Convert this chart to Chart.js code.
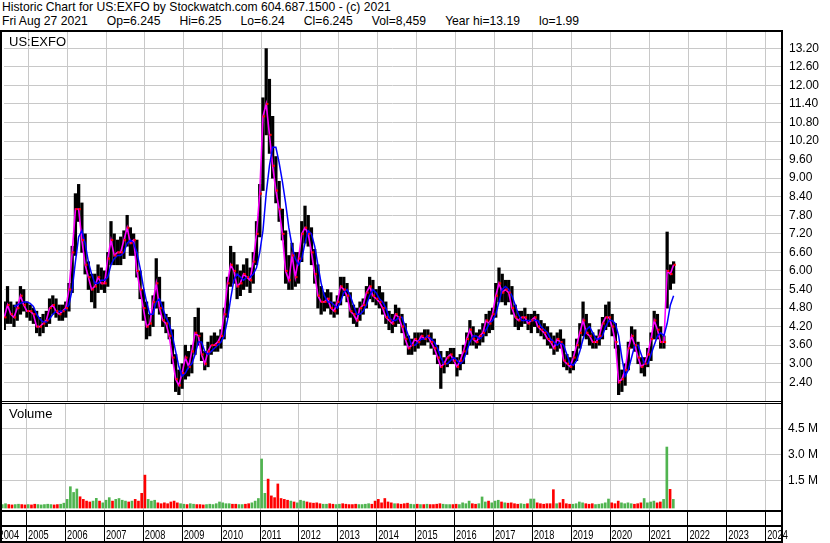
<!DOCTYPE html>
<html>
<head>
<meta charset="utf-8">
<script src="https://cdn.jsdelivr.net/npm/chart.js@4.4.1/dist/chart.umd.min.js"></script>
<style>
  body { margin: 0; background: #fff; }
  #wrap { position: relative; width: 830px; height: 543px; overflow: hidden; }
  .head { position: absolute; top: 0; left: 2px; font: 12.15px 'Liberation Sans', Arial, sans-serif; line-height: 14px; white-space: pre; color: #000; }
  .head span { margin-right: 19px; }
  canvas { position: absolute; left: 0; top: 0; }
</style>
</head>
<body>
<div id="wrap">
<div class="head">Historic Chart for US:EXFO by Stockwatch.com 604.687.1500 - (c) 2021</div>
<div class="head" style="top:14px"><span>Fri Aug 27 2021</span><span>Op=6.245</span><span>Hi=6.25</span><span>Lo=6.24</span><span>Cl=6.245</span><span>Vol=8,459</span><span>Year hi=13.19</span><span>lo=1.99</span></div>
<canvas id="price" width="830" height="543"></canvas>
<canvas id="volume" width="830" height="543"></canvas>
</div>
<script>
// monthly bars
const months = [
  '2004-05','2004-06','2004-07','2004-08','2004-09','2004-10','2004-11','2004-12',
  '2005-01','2005-02','2005-03','2005-04','2005-05','2005-06','2005-07','2005-08','2005-09','2005-10','2005-11','2005-12',
  '2006-01','2006-02','2006-03','2006-04','2006-05','2006-06','2006-07','2006-08','2006-09','2006-10','2006-11','2006-12',
  '2007-01','2007-02','2007-03','2007-04','2007-05','2007-06','2007-07','2007-08','2007-09','2007-10','2007-11','2007-12',
  '2008-01','2008-02','2008-03','2008-04','2008-05','2008-06','2008-07','2008-08','2008-09','2008-10','2008-11','2008-12',
  '2009-01','2009-02','2009-03','2009-04','2009-05','2009-06','2009-07','2009-08','2009-09','2009-10','2009-11','2009-12',
  '2010-01','2010-02','2010-03','2010-04','2010-05','2010-06','2010-07','2010-08','2010-09','2010-10','2010-11','2010-12',
  '2011-01','2011-02','2011-03','2011-04','2011-05','2011-06','2011-07','2011-08','2011-09','2011-10','2011-11','2011-12',
  '2012-01','2012-02','2012-03','2012-04','2012-05','2012-06','2012-07','2012-08','2012-09','2012-10','2012-11','2012-12',
  '2013-01','2013-02','2013-03','2013-04','2013-05','2013-06','2013-07','2013-08','2013-09','2013-10','2013-11','2013-12',
  '2014-01','2014-02','2014-03','2014-04','2014-05','2014-06','2014-07','2014-08','2014-09','2014-10','2014-11','2014-12',
  '2015-01','2015-02','2015-03','2015-04','2015-05','2015-06','2015-07','2015-08','2015-09','2015-10','2015-11','2015-12',
  '2016-01','2016-02','2016-03','2016-04','2016-05','2016-06','2016-07','2016-08','2016-09','2016-10','2016-11','2016-12',
  '2017-01','2017-02','2017-03','2017-04','2017-05','2017-06','2017-07','2017-08','2017-09','2017-10','2017-11','2017-12',
  '2018-01','2018-02','2018-03','2018-04','2018-05','2018-06','2018-07','2018-08','2018-09','2018-10','2018-11','2018-12',
  '2019-01','2019-02','2019-03','2019-04','2019-05','2019-06','2019-07','2019-08','2019-09','2019-10','2019-11','2019-12',
  '2020-01','2020-02','2020-03','2020-04','2020-05','2020-06','2020-07','2020-08','2020-09','2020-10','2020-11','2020-12',
  '2021-01','2021-02','2021-03','2021-04','2021-05','2021-06','2021-07','2021-08'
];

const highs = [
  5.0,5.5,5.0,4.9,5.0,5.5,5.4,5.0,
  4.9,4.8,4.7,4.5,4.6,4.7,5.1,5.2,5.1,4.9,4.9,5.0,
  5.6,6.8,8.5,8.8,8.2,7.2,6.3,5.9,5.9,6.2,6.1,6.0,
  6.6,7.6,7.2,7.0,7.1,7.3,7.8,7.4,7.2,7.0,6.0,5.4,
  5.0,4.6,5.2,6.4,5.8,5.0,4.6,4.5,4.1,3.3,2.8,3.0,
  3.6,3.4,3.6,4.5,4.8,4.0,3.4,3.7,3.9,4.0,3.9,4.1,
  4.8,5.8,6.8,6.6,6.2,6.0,6.2,6.4,6.1,6.6,7.6,8.8,
  11.6,13.19,12.2,11.0,9.7,8.9,8.0,7.3,6.5,6.9,6.6,6.6,
  7.6,8.1,7.8,7.4,6.7,6.2,5.5,5.3,5.4,5.3,5.0,5.2,
  5.8,5.8,5.6,5.3,4.9,4.8,5.0,5.1,5.5,5.8,5.7,5.4,
  5.5,5.3,5.0,4.7,4.6,4.9,4.8,4.6,4.3,3.9,3.8,4.0,
  4.0,4.0,4.1,4.1,4.0,3.8,3.6,3.4,3.2,3.4,3.5,3.5,
  3.2,3.3,3.6,4.0,4.4,4.2,4.0,4.1,4.3,4.6,4.7,4.8,
  5.6,6.1,5.9,5.7,5.7,5.5,4.9,4.7,4.7,4.8,4.6,4.6,
  4.7,4.6,4.4,4.3,4.2,4.0,3.9,4.0,4.1,3.8,3.3,3.2,
  3.4,3.8,4.3,5.0,4.6,4.3,4.0,3.9,4.1,4.5,4.9,5.0,
  4.6,4.3,3.6,2.8,3.0,3.7,4.2,4.1,3.7,3.2,3.2,3.5,
  4.0,4.7,4.6,4.2,3.9,7.26,6.2,6.3
];

const lows = [
  4.1,4.3,4.3,4.2,4.4,4.6,4.7,4.5,
  4.4,4.3,4.0,3.9,4.0,4.2,4.3,4.6,4.5,4.4,4.4,4.5,
  4.7,5.3,6.5,7.6,6.6,5.9,5.4,5.0,4.8,5.3,5.4,5.3,
  5.5,6.2,6.2,6.2,6.2,6.4,6.8,6.5,6.5,5.8,5.1,4.4,
  3.8,3.9,4.2,4.8,4.6,4.2,4.0,3.8,3.0,2.1,2.0,2.2,
  2.5,2.6,2.7,3.3,3.6,3.1,2.8,2.9,3.3,3.4,3.4,3.5,
  3.8,4.5,5.5,5.6,5.1,5.2,5.4,5.5,5.3,5.6,6.2,7.1,
  8.6,10.4,9.8,9.0,8.2,7.6,7.0,5.6,5.4,5.4,5.5,5.6,
  6.3,6.9,6.8,6.2,5.6,4.8,4.6,4.7,4.8,4.6,4.5,4.6,
  4.9,5.2,5.0,4.5,4.3,4.2,4.4,4.6,4.8,5.1,5.0,4.9,
  4.8,4.6,4.3,4.1,4.0,4.2,4.3,4.0,3.6,3.3,3.3,3.4,
  3.5,3.6,3.6,3.7,3.5,3.3,3.0,2.2,2.7,2.9,3.0,3.0,
  2.6,2.8,3.0,3.3,3.6,3.6,3.5,3.6,3.7,3.9,4.0,4.1,
  4.5,5.0,5.0,4.9,5.0,4.6,4.2,4.1,4.2,4.3,4.1,4.0,
  4.2,4.0,3.9,3.8,3.6,3.5,3.3,3.4,3.5,2.9,2.8,2.7,
  2.8,3.1,3.5,3.9,3.8,3.6,3.5,3.5,3.6,3.8,4.1,4.2,
  3.9,3.5,2.0,2.1,2.3,2.8,3.5,3.4,3.0,2.7,2.6,2.9,
  3.1,3.8,3.8,3.5,3.5,4.8,5.4,5.6
];

const closes = [
  4.5,4.9,4.6,4.5,4.8,5.2,4.9,4.7,
  4.7,4.6,4.2,4.2,4.3,4.4,4.8,4.9,4.7,4.6,4.7,4.8,
  5.4,6.6,8.0,8.0,7.0,6.2,5.8,5.4,5.5,5.8,5.6,5.6,
  6.4,7.0,6.5,6.6,6.6,7.0,7.4,6.9,7.0,6.0,5.4,4.8,
  4.2,4.3,5.0,5.6,4.8,4.4,4.3,3.9,3.2,2.5,2.3,2.7,
  3.2,2.9,3.4,4.0,3.9,3.3,3.0,3.4,3.6,3.6,3.7,3.9,
  4.6,5.6,6.2,6.0,5.5,5.6,5.9,5.8,5.7,6.3,7.2,8.5,
  11.0,11.4,10.4,9.4,8.6,8.0,7.2,6.0,5.7,6.5,5.8,6.4,
  7.2,7.4,7.2,6.6,5.9,5.2,5.0,5.0,5.1,4.8,4.7,5.0,
  5.5,5.4,5.2,4.7,4.6,4.4,4.8,4.9,5.3,5.5,5.2,5.1,
  5.0,4.8,4.5,4.4,4.3,4.6,4.5,4.2,3.8,3.5,3.6,3.8,
  3.7,3.9,3.8,3.9,3.7,3.5,3.2,2.9,3.0,3.2,3.3,3.1,
  2.9,3.1,3.4,3.8,4.1,3.8,3.7,3.9,4.0,4.4,4.3,4.6,
  5.2,5.6,5.3,5.4,5.3,4.8,4.5,4.4,4.5,4.5,4.3,4.4,
  4.5,4.2,4.1,4.0,3.8,3.7,3.5,3.8,3.7,3.1,3.0,2.9,
  3.2,3.6,4.0,4.4,4.0,3.9,3.7,3.7,3.9,4.3,4.5,4.5,
  4.2,3.7,2.4,2.5,2.8,3.5,3.9,3.6,3.2,2.9,3.0,3.3,
  3.8,4.4,4.1,3.7,3.7,6.0,5.9,6.2
];

// slow moving average (blue line)
const avgLong = [
  null,null,null,4.85,4.9,4.95,5.0,5.0,
  4.95,4.85,4.6,4.45,4.35,4.35,4.45,4.6,4.7,4.7,4.7,4.75,
  4.9,5.4,6.3,7.1,7.3,6.9,6.3,5.9,5.6,5.6,5.7,5.7,
  5.8,6.2,6.4,6.5,6.5,6.6,6.9,7.0,6.9,6.6,6.1,5.5,
  5.0,4.6,4.6,5.0,5.1,4.8,4.5,4.3,3.9,3.4,2.9,2.6,
  2.7,2.9,3.0,3.3,3.7,3.7,3.4,3.3,3.4,3.5,3.6,3.7,
  3.9,4.4,5.1,5.7,5.9,5.8,5.7,5.8,5.8,5.9,6.1,6.6,
  7.3,8.5,9.4,10.0,10.0,9.5,8.9,8.2,7.4,6.8,6.4,6.2,
  6.4,6.9,7.3,7.2,6.8,6.2,5.6,5.2,5.0,5.0,4.9,4.8,
  5.0,5.3,5.4,5.2,4.9,4.6,4.6,4.7,4.9,5.2,5.4,5.3,
  5.1,5.0,4.8,4.5,4.4,4.4,4.5,4.5,4.2,3.9,3.6,3.6,
  3.7,3.8,3.8,3.9,3.8,3.7,3.5,3.2,3.0,3.0,3.1,3.2,
  3.1,3.0,3.1,3.4,3.7,3.9,3.9,3.8,3.9,4.1,4.3,4.4,
  4.6,5.0,5.4,5.5,5.4,5.2,4.9,4.6,4.4,4.4,4.4,4.4,
  4.4,4.4,4.2,4.1,4.0,3.8,3.7,3.6,3.7,3.6,3.3,3.0,
  2.95,3.1,3.4,3.8,4.1,4.2,4.0,3.8,3.8,3.9,4.2,4.4,
  4.4,4.3,3.9,3.2,2.6,2.8,3.2,3.6,3.6,3.3,3.0,3.0,
  3.3,3.6,3.9,4.0,3.9,4.3,4.9,5.2
];

// volume in millions of shares
const volumes = [
  0.10,0.15,0.10,0.08,0.10,0.12,0.10,0.08,
  0.10,0.08,0.12,0.10,0.08,0.10,0.12,0.10,0.08,0.10,0.12,0.18,
  0.40,1.13,0.80,1.00,0.55,0.40,0.30,0.25,0.30,0.46,0.30,0.20,
  0.35,0.50,0.30,0.40,0.45,0.35,0.30,0.25,0.30,0.40,0.30,0.75,
  1.80,0.40,0.30,0.35,0.20,0.15,0.20,0.15,0.25,0.30,0.20,0.15,
  0.12,0.10,0.15,0.12,0.10,0.10,0.08,0.10,0.12,0.10,0.15,0.25,
  0.20,0.15,0.15,0.12,0.12,0.10,0.10,0.12,0.15,0.20,0.30,0.45,
  2.73,0.75,1.57,0.60,0.50,1.29,0.45,0.40,0.35,0.30,0.25,0.20,
  0.35,0.30,0.25,0.20,0.18,0.20,0.15,0.12,0.12,0.15,0.12,0.10,
  0.12,0.15,0.12,0.10,0.10,0.12,0.10,0.10,0.12,0.15,0.12,0.30,
  0.40,0.20,0.45,0.25,0.20,0.15,0.15,0.12,0.15,0.18,0.12,0.10,
  0.12,0.10,0.10,0.12,0.10,0.10,0.12,0.15,0.12,0.10,0.10,0.10,
  0.12,0.10,0.20,0.15,0.30,0.15,0.12,0.15,0.54,0.25,0.30,0.20,
  0.30,0.35,0.25,0.20,0.18,0.20,0.15,0.12,0.15,0.12,0.15,0.42,
  0.42,0.20,0.15,0.12,0.15,0.15,0.96,0.15,0.20,0.40,0.15,0.12,
  0.12,0.15,0.25,0.20,0.15,0.12,0.15,0.10,0.12,0.15,0.20,0.42,
  0.20,0.15,0.30,0.20,0.15,0.20,0.15,0.12,0.15,0.20,0.45,0.20,
  0.25,0.30,0.20,0.25,0.40,3.42,0.98,0.40
];

const yearLabels = ['2004','2005','2006','2007','2008','2009','2010','2011','2012','2013','2014',
  '2015','2016','2017','2018','2019','2020','2021','2022','2023','2024'];
const priceTicks = [2.4, 3.0, 3.6, 4.2, 4.8, 5.4, 6.0, 6.6, 7.2, 7.8, 8.4, 9.0, 9.6, 10.2, 10.8, 11.4, 12.0, 12.6, 13.2];
const volumeTicks = [1.5, 3.0, 4.5];

const FONT = "'Liberation Sans', Arial, sans-serif";
const GRID = '#c8c8c8';
const X_MIN = 2004.3676, X_MAX = 2024.393;

const toYear = m => { const p = m.split('-').map(Number); return p[0] + (p[1] - 0.5) / 12; };
const xs = months.map(toYear);
const yearLines = yearLabels.slice(1).map(Number);

const yearGrid = axis => { axis.ticks = yearLines.map(v => ({ value: v })); };

// price panel
new Chart(document.getElementById('price'), {
  type: 'bar',
  data: {
    datasets: [
      {
        type: 'line',
        data: xs.map((x, i) => ({ x: x + 0.35 / 12, y: closes[i] })),
        showLine: false,
        pointStyle: 'rect',
        pointRadius: 1.5,
        pointBackgroundColor: '#ff0000',
        pointBorderWidth: 0,
        order: 0
      },
      {
        type: 'line',
        data: xs.map((x, i) => ({ x, y: avgLong[i] })),
        borderColor: '#0000ff',
        borderWidth: 1.5,
        pointRadius: 0,
        order: 1
      },
      {
        type: 'line',
        data: xs.map((x, i) => ({ x, y: closes[i] })),
        borderColor: '#ff00ff',
        borderWidth: 1.6,
        pointRadius: 0,
        order: 2
      },
      {
        type: 'bar',
        data: xs.map((x, i) => ({ x, y: [lows[i], highs[i]] })),
        backgroundColor: '#000',
        barThickness: 2.6,
        order: 3
      }
    ]
  },
  options: {
    responsive: false,
    animation: false,
    events: [],
    layout: { padding: { left: 2, top: 32, right: 0, bottom: 142 } },
    plugins: { legend: { display: false }, tooltip: { enabled: false } },
    scales: {
      x: {
        type: 'linear', min: X_MIN, max: X_MAX, offset: false,
        afterBuildTicks: yearGrid,
        afterFit: a => { a.height = 0; },
        ticks: { display: false },
        grid: { color: GRID, drawTicks: false, offset: false },
        border: { display: false }
      },
      y: {
        position: 'right', min: 1.795, max: 13.727,
        afterBuildTicks: a => { a.ticks = priceTicks.map(v => ({ value: v })); },
        afterFit: a => { a.width = 49; },
        ticks: { padding: 8, color: '#000', font: { family: FONT, size: 12 }, callback: v => v.toFixed(2) },
        grid: { color: GRID, drawTicks: false },
        border: { display: false }
      }
    }
  },
  plugins: [{
    id: 'symbol',
    afterDraw(chart) {
      const ctx = chart.ctx;
      ctx.save();
      ctx.fillStyle = '#000';
      ctx.font = '13px ' + FONT;
      ctx.fillText('US:EXFO', 9, 46);
      ctx.restore();
    }
  }]
});

// volume panel
new Chart(document.getElementById('volume'), {
  type: 'bar',
  data: {
    datasets: [{
      data: xs.map((x, i) => ({ x, y: volumes[i] })),
      backgroundColor: closes.map((c, i) => (i === 0 || c >= closes[i - 1]) ? '#50b450' : '#ff0000'),
      barThickness: 2,
      base: -0.1
    }]
  },
  options: {
    responsive: false,
    animation: false,
    events: [],
    layout: { padding: { left: 2, top: 404, right: 0, bottom: 0 } },
    plugins: { legend: { display: false }, tooltip: { enabled: false } },
    scales: {
      x: {
        type: 'linear', min: X_MIN, max: X_MAX, offset: false,
        afterBuildTicks: yearGrid,
        afterFit: a => { a.height = 33; },
        ticks: { display: false },
        grid: { color: GRID, tickColor: '#000', tickLength: 31, drawTicks: true, offset: false },
        border: { display: false }
      },
      y: {
        position: 'right', min: -0.2135, max: 5.903,
        afterBuildTicks: a => { a.ticks = volumeTicks.map(v => ({ value: v })); },
        afterFit: a => { a.width = 49; },
        ticks: { padding: 7, color: '#000', font: { family: FONT, size: 12 }, callback: v => v.toFixed(1) + ' M' },
        grid: { color: GRID, drawTicks: false },
        border: { display: false }
      }
    }
  },
  plugins: [{
    id: 'frame',
    afterDraw(chart) {
      const ctx = chart.ctx;
      const xScale = chart.scales.x;
      ctx.save();
      ctx.fillStyle = '#000';
      // panel borders
      ctx.fillRect(0, 30, 783, 2);
      ctx.fillRect(0, 30, 2, 513);
      ctx.fillRect(781, 30, 2, 513);
      ctx.fillRect(0, 401, 783, 1);
      ctx.fillRect(0, 403, 783, 1);
      ctx.fillRect(0, 510, 783, 2);
      ctx.fillRect(0, 525, 783, 2);
      ctx.fillRect(0, 541, 783, 2);
      ctx.font = '13px ' + FONT;
      ctx.fillText('Volume', 9, 418);
      // year labels, condensed, just right of each year line
      ctx.font = '12.5px ' + FONT;
      yearLabels.forEach(y => {
        const px = Math.max(xScale.getPixelForValue(Number(y)) + 1.5, -1.5);
        ctx.save();
        ctx.translate(px, 538.5);
        ctx.scale(0.74, 1);
        ctx.fillText(y, 0, 0);
        ctx.restore();
      });
      ctx.restore();
    }
  }]
});
</script>
</body>
</html>
